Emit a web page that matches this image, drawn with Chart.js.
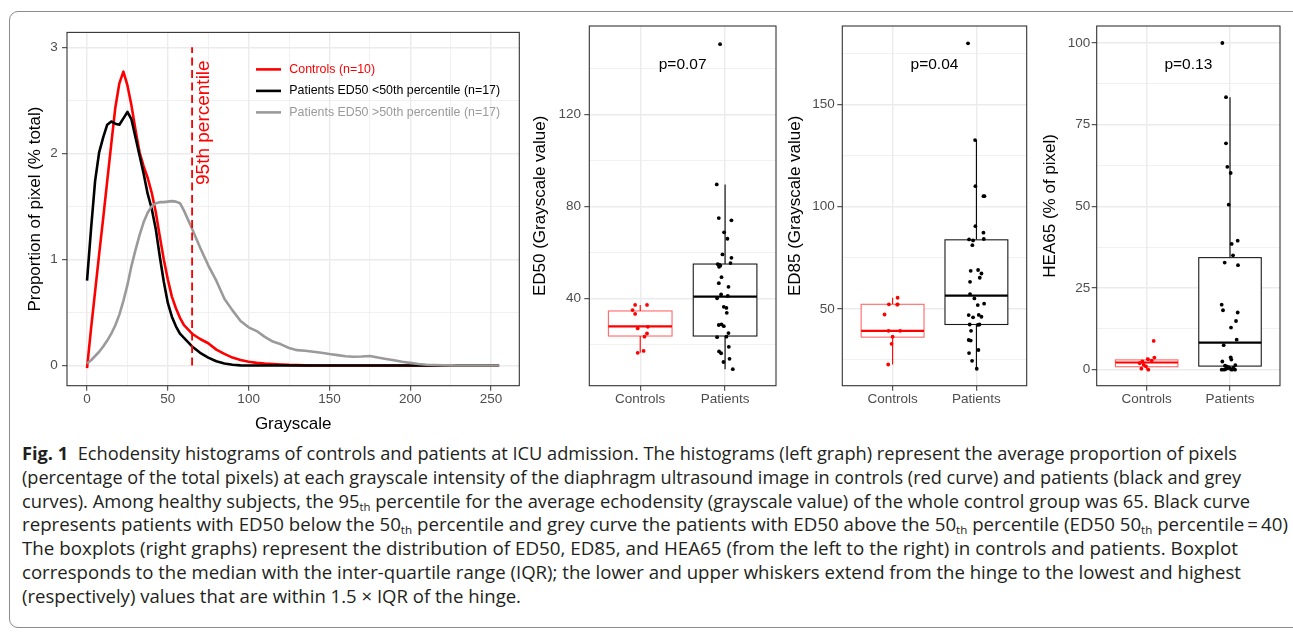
<!DOCTYPE html>
<html><head><meta charset="utf-8">
<script src="https://cdn.jsdelivr.net/npm/chart.js@4.4.1/dist/chart.umd.min.js"></script>
<style>
html,body{margin:0;padding:0;background:#fff}
body{width:1293px;height:634px;overflow:hidden;position:relative;font-family:"Liberation Sans",Arial,sans-serif}
#frame{position:absolute;left:9px;top:11px;width:1310px;height:617px;border:1px solid #8c8c8c;border-radius:9px;box-sizing:border-box}
canvas{position:absolute}
#caption{position:absolute;left:22px;top:442px;font-family:"Open Sans",sans-serif;font-size:18px;line-height:23.75px;color:#231f20}
#caption .ln{white-space:nowrap;transform-origin:0 50%;width:max-content;height:23.75px}
#caption b{font-weight:700}
sub{font-size:0.62em;vertical-align:-0.3em;line-height:0}
</style></head>
<body>
<div id="frame"></div>
<canvas id="hist" width="520" height="420" style="left:10px;top:20px;width:520px;height:420px"></canvas>
<canvas id="ed50" width="260" height="430" style="left:520px;top:10px;width:260px;height:430px"></canvas>
<canvas id="ed85" width="255" height="430" style="left:780px;top:10px;width:255px;height:430px"></canvas>
<canvas id="hea65" width="258" height="430" style="left:1035px;top:10px;width:258px;height:430px"></canvas>
<div id="caption">
<div class="ln" data-w="1215"><b>Fig. 1</b>&nbsp; Echodensity histograms of controls and patients at ICU admission. The histograms (left graph) represent the average proportion of pixels</div>
<div class="ln" data-w="1219">(percentage of the total pixels) at each grayscale intensity of the diaphragm ultrasound image in controls (red curve) and patients (black and grey</div>
<div class="ln" data-w="1228">curves). Among healthy subjects, the 95<sub>th</sub> percentile for the average echodensity (grayscale value) of the whole control group was 65. Black curve</div>
<div class="ln" data-w="1266">represents patients with ED50 below the 50<sub>th</sub> percentile and grey curve the patients with ED50 above the 50<sub>th</sub> percentile (ED50 50<sub>th</sub> percentile&thinsp;=&thinsp;40)</div>
<div class="ln" data-w="1216">The boxplots (right graphs) represent the distribution of ED50, ED85, and HEA65 (from the left to the right) in controls and patients. Boxplot</div>
<div class="ln" data-w="1219">corresponds to the median with the inter-quartile range (IQR); the lower and upper whiskers extend from the hinge to the lowest and highest</div>
<div class="ln" data-w="499">(respectively) values that are within 1.5 × IQR of the hinge.</div>
</div>
<script>
// ---------- DATA ----------
const grayLevels = [0,2.5,5,7.5,10,12.5,15,17.5,20,22.5,25,27.5,30,32.5,35,37.5,40,42.5,45,47.5,50,52.5,55,57.5,60,
  65,70,75,80,85,90,95,100,105,110,115,120,125,130,135,140,145,150,155,160,165,170,175,180,185,190,195,200,205,210,215,220,225,230,235,240,245,250,255];
const controlsCurve = [-0.025,0.35,0.70,1.05,1.39,1.74,2.09,2.43,2.66,2.77,2.64,2.45,2.22,2.01,1.88,1.77,1.63,1.45,1.22,1.00,0.81,0.65,0.54,0.45,0.38,
  0.30,0.25,0.21,0.15,0.11,0.075,0.053,0.036,0.025,0.018,0.014,0.010,0.006,0.004,0.002,0,0,0,0,0,0,0,0,0,0,0,0,0,0,0,0,0,0,0,0,0,0,0,0];
const patientsLowCurve = [0.80,1.29,1.74,2.01,2.15,2.27,2.30,2.28,2.27,2.33,2.39,2.32,2.15,1.98,1.81,1.62,1.48,1.29,1.03,0.79,0.59,0.46,0.37,0.30,0.26,
  0.18,0.12,0.075,0.04,0.02,0.007,0.002,0,0,0,0,0,0,0,0,0,0,0,0,0,0,0,0,0,0,0,0,0,0,0,0,0,0,0,0,0,0,0,0];
const patientsHighCurve = [0.02,0.05,0.09,0.13,0.18,0.235,0.30,0.38,0.48,0.61,0.76,0.94,1.09,1.23,1.35,1.44,1.50,1.53,1.54,1.54,1.545,1.55,1.545,1.53,1.46,
  1.29,1.11,0.945,0.80,0.63,0.52,0.42,0.36,0.325,0.27,0.226,0.20,0.165,0.145,0.14,0.13,0.12,0.108,0.098,0.088,0.083,0.085,0.09,0.075,0.062,0.05,0.036,0.025,0.015,0.008,0.005,0.003,0.002,0.001,0,0,0,0,0];
const curveLabels = ['Controls (n=10)','Patients ED50 <50th percentile (n=17)','Patients ED50 >50th percentile (n=17)'];
const controlP95 = 65;
const p95LineSpan = [0,3];
const p95Label = '95th percentile';
const histXTicks = [0,50,100,150,200,250];
const histXMinor = [25,75,125,175,225];
const histYTicks = [0,1,2,3];
const histYMinor = [0.5,1.5,2.5];

const groups = ['Controls','Patients'];

const ed50Controls = [37.3,37.3,35.1,33.4,27.1,27.8,24.9,23.5,17.3,16.5];
const ed50ControlsJitter = [-0.06,0.08,-0.09,-0.06,-0.03,0.09,0.08,0.05,0.04,-0.03];
const ed50Patients = [150.7,89.7,75.1,74.1,68.9,66.1,59.3,57.8,55.5,55.0,53.9,54.4,54.7,49.4,46.8,45.2,41.9,41.2,40.2,36.5,36.0,33.9,28.6,28.9,28.1,23.3,23.5,25.1,19.1,17.1,16.3,13.9,12.5,9.4];
const ed50PatientsJitter = [-0.059,-0.098,-0.074,0.075,-0.012,0.028,-0.031,0.075,0.064,-0.086,-0.071,-0.056,-0.065,-0.042,-0.074,0.04,-0.047,0.032,-0.094,-0.015,0.016,0.02,-0.074,-0.042,-0.015,-0.094,0.016,0.04,0.044,-0.071,-0.047,0.052,-0.019,0.091];
const ed50Low = [16.5,9.4], ed50Q1 = [23.8,23.8], ed50Median = [28.0,40.9], ed50Q3 = [34.7,55.1], ed50High = [37.3,89.7];
const ed50Ticks = [40,80,120], ed50Minor = [20,60,100,140];

const ed85Controls = [55.4,52.2,52.2,47.2,39.2,39.2,36.3,32.8,22.7,52.0];
const ed85ControlsJitter = [0.06,-0.044,0.06,-0.096,-0.048,0.09,0,-0.012,-0.052,0.055];
const ed85Patients = [180.1,132.7,110.1,105.2,105.2,90.5,87.3,84.0,83.5,84.2,81.2,68.6,69.0,67.3,65.2,63.2,57.2,55.1,52.5,51.8,46.9,45.8,47.0,46.1,42.3,42.1,42.3,39.2,34.7,34.4,29.8,28.3,24.5,20.6];
const ed85PatientsJitter = [-0.1,-0.016,-0.012,0.084,0.096,-0.012,0.084,-0.088,-0.04,0.088,-0.048,-0.068,0.02,0.06,0.04,-0.076,-0.076,-0.024,0.092,0.016,-0.092,-0.04,0.028,0.06,-0.08,0.016,0.036,-0.064,-0.092,-0.068,0.024,-0.088,-0.052,0.004];
const ed85Low = [22.7,20.6], ed85Q1 = [36.1,42.3], ed85Median = [39.2,56.4], ed85Q3 = [52.2,83.8], ed85High = [55.4,132.7];
const ed85Ticks = [50,100,150], ed85Minor = [25,75,125,175];

const hea65Controls = [8.8,3.7,3.2,2.8,2.5,2.0,1.5,1.0,0.3,0.0];
const hea65ControlsJitter = [0.084,0.092,0.016,0.06,-0.052,-0.084,-0.036,-0.008,-0.064,0.02];
const hea65Patients = [100,83.4,69.3,62.1,60.2,50.5,39.5,38.5,35.0,32.8,32.0,19.9,18.2,17.5,14.9,12.9,9.2,7.5,3.8,3.1,2.5,1.4,0.0,0.0,0.2,0.5,0.8,1.0,0.3,0.0,0.6,0.0,1.2,0.1];
const hea65PatientsJitter = [-0.092,-0.048,-0.048,-0.032,0.008,-0.016,0.092,0.02,0.036,-0.064,0.096,-0.1,-0.084,0.092,0.072,0.012,0.08,-0.076,0.008,0.016,-0.092,0.064,-0.1,-0.07,-0.05,-0.03,-0.02,-0.04,0,0.02,0.04,0.06,-0.06,0.03];
const hea65Low = [0,0], hea65Q1 = [0.9,1.1], hea65Median = [2.2,8.3], hea65Q3 = [3.0,34.3], hea65High = [3.7,83.4];
const hea65Ticks = [0,25,50,75,100], hea65Minor = [12.5,37.5,62.5,87.5];

const pValues = ['p=0.07','p=0.04','p=0.13'];

// ---------- STYLE ----------
const FONT = 'Liberation Sans';
Chart.defaults.font.family = FONT;
const GRID = '#EBEBEB', PANEL = '#333333', TICKTXT = '#4D4D4D';
const RED = '#FF0000', GREY = '#9A9A9A';

const framePlugin = {
  id:'frame',
  afterDatasetsDraw(chart){
    const {ctx, chartArea:a} = chart;
    ctx.save(); ctx.strokeStyle = PANEL; ctx.lineWidth = 1.1;
    ctx.strokeRect(a.left, a.top, a.right-a.left, a.bottom-a.top); ctx.restore();
  }
};

function yAxis(min, max, major, minor, width, title, titlePad, tickPad){
  const all = major.concat(minor).sort((a,b)=>a-b);
  return {
    min, max,
    afterBuildTicks: s => { s.ticks = all.map(v=>({value:v})); },
    afterFit: s => { s.width = width; },
    ticks:{ autoSkip:false, color:TICKTXT, font:{size:13.5}, padding:tickPad,
      callback: v => major.includes(v) ? String(v) : '' },
    grid:{ color:GRID, tickLength:5, tickWidth:1,
      lineWidth: c => major.includes(c.tick && c.tick.value) ? 1.4 : 0.7,
      tickColor: c => major.includes(c.tick && c.tick.value) ? PANEL : 'rgba(0,0,0,0)' },
    border:{display:false},
    title:{display:true, text:title, color:'#000', font:{size:17}, padding:{top:titlePad,bottom:0}}
  };
}

// ---------- HISTOGRAM PANEL ----------
const toXY = arr => grayLevels.map((g,i)=>({x:g, y:arr[i]}));
const histAll = histXTicks.concat(histXMinor).sort((a,b)=>a-b);
const histExtras = {
  id:'histExtras',
  afterDatasetsDraw(chart){
    const {ctx, chartArea:a, scales:{x}} = chart;
    ctx.save();
    const cols = [RED,'#000000',GREY];
    ctx.font = '12.4px "' + FONT + '"'; ctx.textBaseline = 'middle'; ctx.textAlign = 'left';
    curveLabels.forEach((lab,i)=>{
      const yy = a.top + 37 + i*21.5;
      ctx.strokeStyle = cols[i]; ctx.lineWidth = 2.6;
      ctx.beginPath(); ctx.moveTo(a.left+189, yy); ctx.lineTo(a.left+214, yy); ctx.stroke();
      ctx.fillStyle = cols[i]; ctx.fillText(lab, a.left+222.3, yy);
    });
    ctx.translate(x.getPixelForValue(controlP95)+11.3, a.top+152.6);
    ctx.rotate(-Math.PI/2);
    ctx.font = '19px "' + FONT + '"'; ctx.fillStyle = RED; ctx.textBaseline='middle'; ctx.textAlign='left';
    ctx.fillText(p95Label, 0, 0);
    ctx.restore();
  }
};
new Chart(document.getElementById('hist'), {
  type:'scatter',
  data:{datasets:[
    {label:curveLabels[0], data:toXY(controlsCurve), borderColor:RED, order:3},
    {label:curveLabels[1], data:toXY(patientsLowCurve), borderColor:'#000000', order:2},
    {label:curveLabels[2], data:toXY(patientsHighCurve), borderColor:GREY, order:1},
    {label:p95Label, data:p95LineSpan.map(v=>({x:controlP95,y:v})), borderColor:RED, borderDash:[8,4.5], borderWidth:1.8, order:0}
  ].map(d=>Object.assign({showLine:true, pointRadius:0, borderWidth:2.6, borderJoinStyle:'round', tension:0}, d))},
  options:{
    responsive:false, animation:false, events:[],
    layout:{padding:{top:10.7,right:10.7,left:0,bottom:0}},
    plugins:{legend:{display:false}, tooltip:{enabled:false}},
    scales:{
      x:{ type:'linear', min:-12.4, max:267.5,
        afterBuildTicks: s => { s.ticks = histAll.map(v=>({value:v})); },
        afterFit: s => { s.height = 54.3; },
        ticks:{ autoSkip:false, maxRotation:0, color:TICKTXT, font:{size:13.5}, padding:0.5,
          callback: v => histXTicks.includes(v) ? String(v) : '' },
        grid:{ color:GRID, tickLength:5, tickWidth:1,
          lineWidth: c => histXTicks.includes(c.tick && c.tick.value) ? 1.4 : 0.7,
          tickColor: c => histXTicks.includes(c.tick && c.tick.value) ? PANEL : 'rgba(0,0,0,0)' },
        border:{display:false},
        title:{display:true, text:'Grayscale', color:'#000', font:{size:17}, padding:{top:0,bottom:5.8}}
      },
      y: yAxis(-0.19, 3.14, histYTicks, histYMinor, 57, 'Proportion of pixel (% total)', 14.8, 4.3)
    }
  },
  plugins:[histExtras, framePlugin]
});

// ---------- BOX PANELS ----------
function makeBox(id, o){
  const boxPlugin = {
    id:'boxes',
    beforeDatasetsDraw(chart){
      const {ctx, scales:{x,y}} = chart;
      const half = 0.375;
      groups.forEach((g,i)=>{
        const c = i+1;
        const cx = x.getPixelForValue(c);
        const l = x.getPixelForValue(c-half), r = x.getPixelForValue(c+half);
        const yq1 = y.getPixelForValue(o.q1[i]), yq3 = y.getPixelForValue(o.q3[i]);
        const ym = y.getPixelForValue(o.med[i]);
        const line = i===0 ? RED : '#000000';
        const boxc = i===0 ? 'rgba(255,0,0,0.6)' : '#1a1a1a';
        ctx.save();
        ctx.strokeStyle = line; ctx.lineWidth = 1.1;
        ctx.beginPath();
        ctx.moveTo(cx, y.getPixelForValue(o.hi[i])); ctx.lineTo(cx, yq3);
        ctx.moveTo(cx, yq1); ctx.lineTo(cx, y.getPixelForValue(o.lo[i]));
        ctx.stroke();
        ctx.fillStyle = '#ffffff';
        ctx.fillRect(l, yq3, r-l, yq1-yq3);
        ctx.strokeStyle = boxc; ctx.lineWidth = 1.1;
        ctx.strokeRect(l, yq3, r-l, yq1-yq3);
        ctx.strokeStyle = line; ctx.lineWidth = 2.2;
        ctx.beginPath(); ctx.moveTo(l, ym); ctx.lineTo(r, ym); ctx.stroke();
        ctx.restore();
      });
    },
    afterDatasetsDraw(chart){
      const {ctx, chartArea:a, scales:{x}} = chart;
      ctx.save(); ctx.font = '15.5px "' + FONT + '"'; ctx.fillStyle = '#000';
      ctx.textAlign = 'center'; ctx.textBaseline = 'middle';
      ctx.fillText(o.p, x.getPixelForValue(1.5), a.top + 38.3);
      ctx.restore();
    }
  };
  new Chart(document.getElementById(id), {
    type:'scatter',
    data:{datasets:[
      {data:o.ctrl.map((v,i)=>({x:1+o.ctrlJ[i], y:v})), backgroundColor:RED, pointRadius:1.9, borderWidth:0},
      {data:o.pat.map((v,i)=>({x:2+o.patJ[i], y:v})), backgroundColor:'#000000', pointRadius:1.9, borderWidth:0}
    ]},
    options:{
      responsive:false, animation:false, events:[],
      layout:{padding:{top:16,right:o.padRight,left:0,bottom:0}},
      plugins:{legend:{display:false}, tooltip:{enabled:false}},
      scales:{
        x:{ type:'linear', min:0.4, max:2.6,
          afterBuildTicks: s => { s.ticks = groups.map((g,i)=>({value:i+1})); },
          afterFit: s => { s.height = 54.3; },
          ticks:{ autoSkip:false, maxRotation:0, color:TICKTXT, font:{size:13.5}, padding:0.5,
            callback: v => groups[v-1] },
          grid:{ color:GRID, lineWidth:1.4, tickLength:5, tickWidth:1, tickColor:PANEL },
          border:{display:false}
        },
        y: yAxis(o.yMin, o.yMax, o.major, o.minor, o.yW, o.title, o.titlePad, o.tickPad)
      }
    },
    plugins:[boxPlugin, framePlugin]
  });
}

makeBox('ed50', {ctrl:ed50Controls, ctrlJ:ed50ControlsJitter, pat:ed50Patients, patJ:ed50PatientsJitter,
  lo:ed50Low, q1:ed50Q1, med:ed50Median, q3:ed50Q3, hi:ed50High, p:pValues[0],
  yMin:2.2, yMax:158.6, major:ed50Ticks, minor:ed50Minor, yW:69.3, padRight:4,
  title:'ED50 (Grayscale value)', titlePad:10.5, tickPad:3.3});
makeBox('ed85', {ctrl:ed85Controls, ctrlJ:ed85ControlsJitter, pat:ed85Patients, patJ:ed85PatientsJitter,
  lo:ed85Low, q1:ed85Q1, med:ed85Median, q3:ed85Q3, hi:ed85High, p:pValues[1],
  yMin:12.3, yMax:188.6, major:ed85Ticks, minor:ed85Minor, yW:62.3, padRight:8.3,
  title:'ED85 (Grayscale value)', titlePad:4.8, tickPad:2.5});
makeBox('hea65', {ctrl:hea65Controls, ctrlJ:hea65ControlsJitter, pat:hea65Patients, patJ:hea65PatientsJitter,
  lo:hea65Low, q1:hea65Q1, med:hea65Median, q3:hea65Q3, hi:hea65High, p:pValues[2],
  yMin:-4.9, yMax:105.2, major:hea65Ticks, minor:hea65Minor, yW:61.7, padRight:13,
  title:'HEA65 (% of pixel)', titlePad:4.8, tickPad:1.5});

// ---------- CAPTION FIT ----------
function fitCaption(){
  document.querySelectorAll('#caption .ln').forEach(el=>{
    el.style.transform = 'none';
    const w = el.getBoundingClientRect().width;
    el.style.transform = 'scaleX(' + (+el.dataset.w / w) + ')';
  });
}
fitCaption();
if (document.fonts && document.fonts.ready) document.fonts.ready.then(fitCaption);
</script>
</body></html>
